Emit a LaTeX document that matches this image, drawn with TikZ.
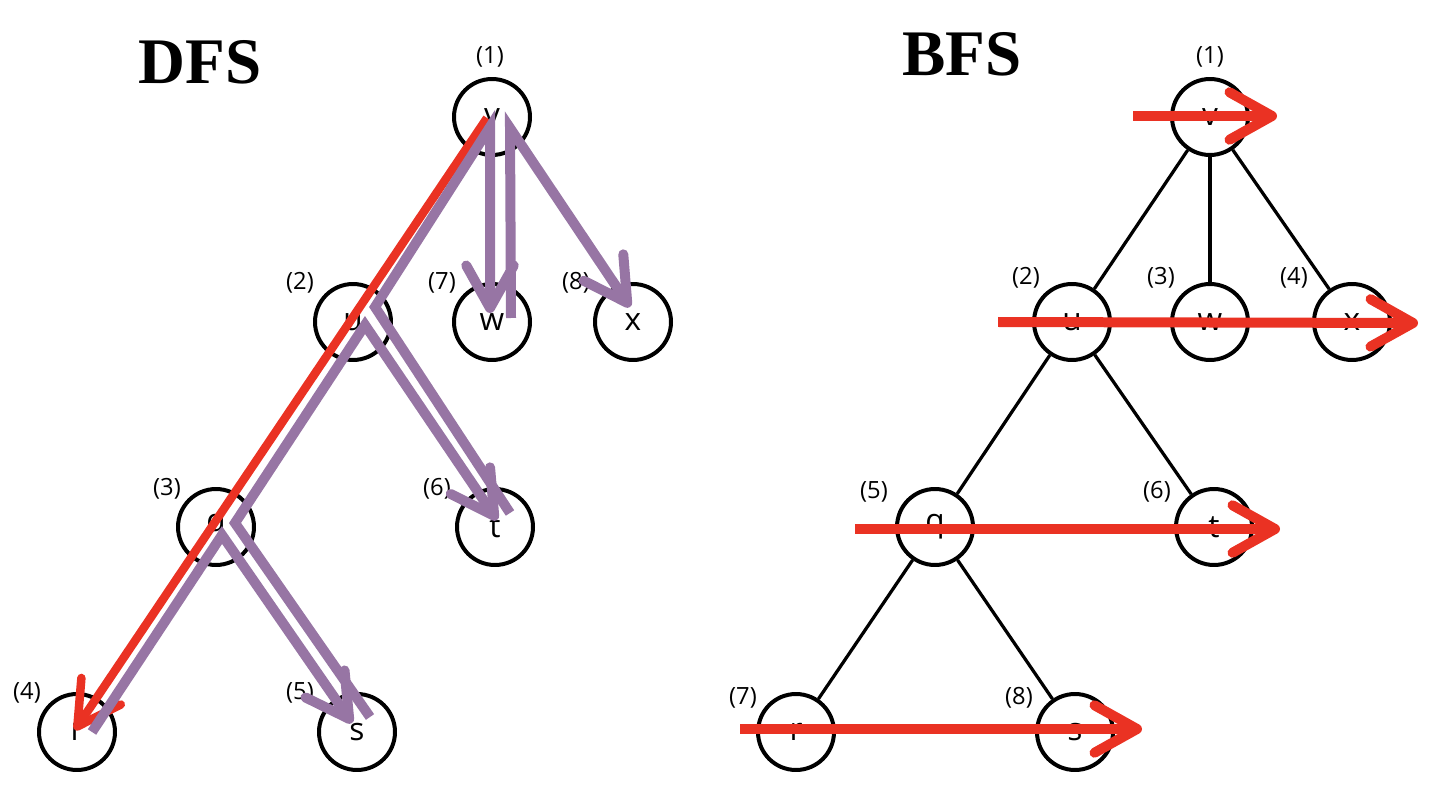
\documentclass[tikz,border=0pt]{standalone}
\usepackage{fontspec}
\newfontfamily\nodefont{Open Sans}
\newfontfamily\titlefont{Liberation Serif}
\usetikzlibrary{arrows.meta,calc}
\definecolor{visitred}{HTML}{EA3223}
\definecolor{backpurple}{HTML}{9775A4}
\tikzset{
	vtx/.style={circle,draw,line width=0.08cm,minimum size=1.52cm,inner sep=0pt,font=\nodefont\fontsize{18}{21}\selectfont},
	ordlbl/.style={font=\nodefont\fontsize{13.5}{16}\selectfont,inner sep=0pt},
	edge/.style={line width=0.065cm},
	title/.style={font=\titlefont\bfseries\fontsize{37}{40}\selectfont,inner sep=0pt},
	barb/.style={-{Straight Barb[length=0.85cm,width=0.95cm,round]}},
	redtrace/.style={draw=visitred,line width=0.17cm,barb},
	bfsline/.style={draw=visitred,line width=0.2cm,barb},
	backtrace/.style={draw=backpurple,line width=0.2cm,barb},
}
\begin{document}
\begin{tikzpicture}[x=0.02cm,y=-0.02cm]
		\useasboundingbox (0,0) rectangle (1430,800);
		\node[title] (dfs) at (200,62) {DFS};
		\node[title] (bfs) at (962,54) {BFS};
		% DFS tree
		\node[vtx] (dv) at (492,117) {v};
		\node[vtx] (du) at (353,322) {u};
		\node[vtx] (dw) at (492,322) {w};
		\node[vtx] (dx) at (633,322) {x};
		\node[vtx] (dq) at (216,527) {q};
		\node[vtx] (dt) at (495,527) {t};
		\node[vtx] (dr) at (77,732) {r};
		\node[vtx] (ds) at (357,732) {s};
		\foreach \a/\b in {dv/dw,dq/ds} \draw[edge] (\a) -- (\b);
		\foreach \n/\k/\dx/\dy in {dv/1/-2/-60,du/2/-53/-39,dw/7/-50/-39,dx/8/-57/-39,dq/3/-49/-38,dt/6/-58/-38,dr/4/-50/-39,ds/5/-57/-39}
			\node[ordlbl] (l\n) at ($(\n)+(\dx,\dy)$) {(\k)};
		% BFS tree
		\node[vtx] (bv) at (1210,117) {v};
		\node[vtx] (bu) at (1072,322) {u};
		\node[vtx] (bw) at (1210,322) {w};
		\node[vtx] (bx) at (1352,322) {x};
		\node[vtx] (bq) at (935,527) {q};
		\node[vtx] (bt) at (1214,527) {t};
		\node[vtx] (br) at (796,732) {r};
		\node[vtx] (bs) at (1075,732) {s};
		\foreach \a/\b in {bv/bu,bv/bw,bv/bx,bu/bq,bu/bt,bq/br,bq/bs} \draw[edge] (\a) -- (\b);
		\foreach \n/\k/\dx/\dy in {bv/1/0/-60,bu/2/-46/-44,bw/3/-49/-44,bx/4/-58/-44,bq/5/-61/-35,bt/6/-57/-35,br/7/-53/-34,bs/8/-56/-34}
			\node[ordlbl] (l\n) at ($(\n)+(\dx,\dy)$) {(\k)};
		
		% DFS: going down, then backtracking
		\draw[redtrace] ($(dv)+(-5,1)$) -- ($(dr)+(-2,-2)$);
		\draw[backtrace] ($(dr)+(15,0)$) -- ($(dq)+(6,8)$) -- ($(ds)+(-5,-9)$);
		\draw[backtrace] ($(ds)+(13,-15)$) -- ($(dq)+(19,-4)$) -- ($(du)+(12,3)$) -- ($(dt)+(2,-7)$);
		\draw[backtrace] ($(dt)+(15,-14)$) -- ($(du)+(22,-15)$) -- ($(dv)+(-2,10)$) -- ($(dw)+(-2,-9)$);
		\draw[backtrace] ($(dw)+(19,-4)$) -- ($(dv)+(18,11)$) -- ($(dx)+(-3,-15)$);
		
		% BFS: level by level
		\draw[bfsline] ($(bv)+(-77,-1)$) -- ($(bv)+(67,-1)$);
		\draw[bfsline] ($(bu)+(-74,0)$) -- ($(bx)+(66,1)$);
		\draw[bfsline] ($(bq)+(-80,2)$) -- ($(bt)+(66,2)$);
		\draw[bfsline] ($(br)+(-56,-3)$) -- ($(bs)+(67,-3)$);
\end{tikzpicture}
\end{document}
